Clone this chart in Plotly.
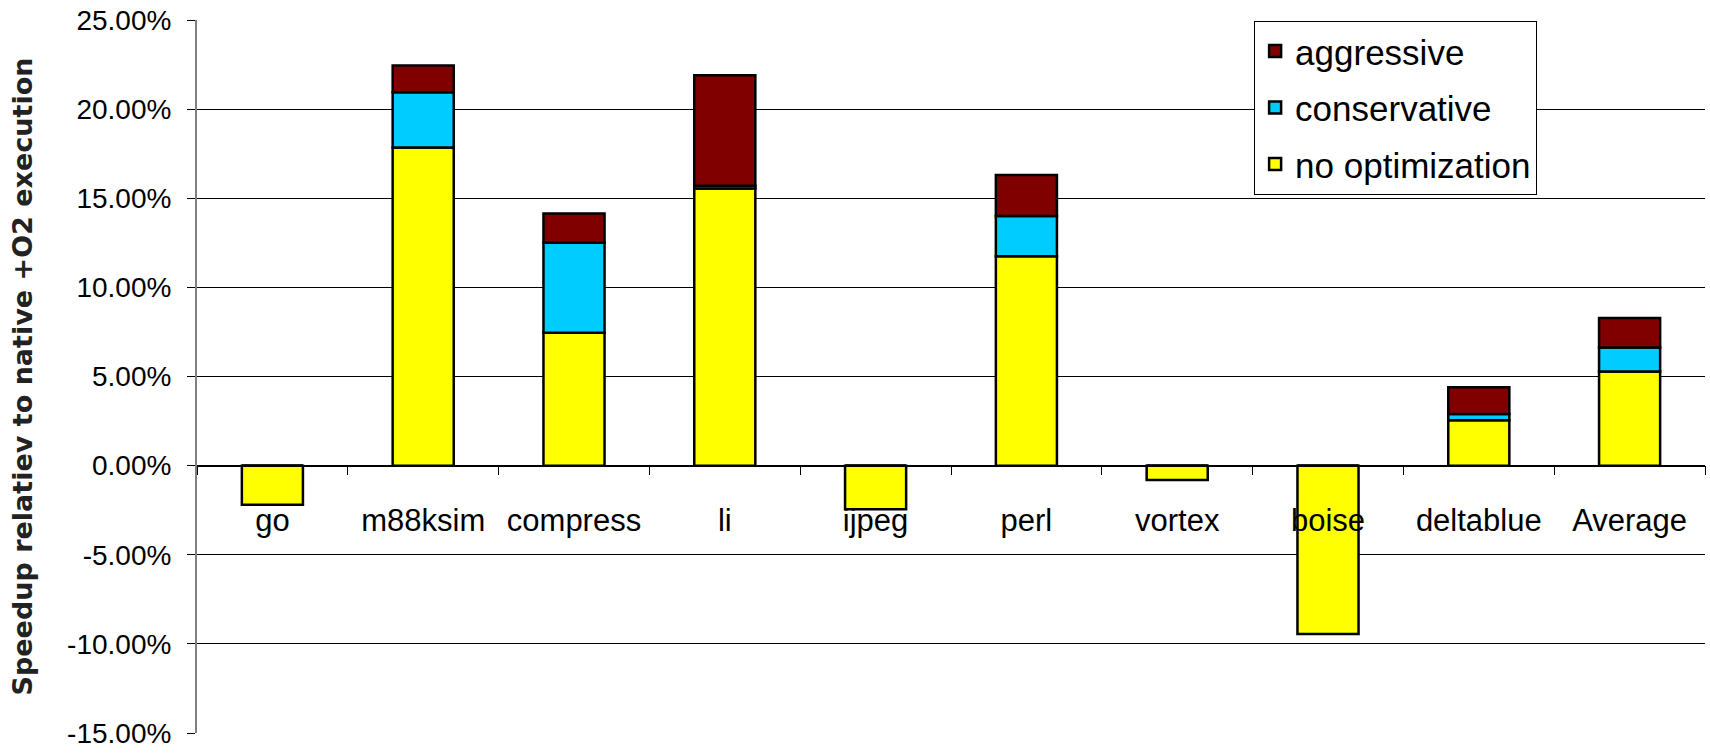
import plotly.graph_objects as go

categories = ["go", "m88ksim", "compress", "li", "ijpeg", "perl", "vortex", "boise", "deltablue", "Average"]
no_optimization = [-2.2, 17.85, 7.45, 15.55, -2.45, 11.75, -0.8, -9.45, 2.55, 5.28]
conservative = [0.0, 3.1, 5.05, 0.15, 0.0, 2.25, 0.0, 0.0, 0.35, 1.35]
aggressive = [0.0, 1.5, 1.65, 6.2, 0.0, 2.3, 0.0, 0.0, 1.5, 1.65]

tick_vals = [-15, -10, -5, 0, 5, 10, 15, 20, 25]
tick_text = ["-15.00%", "-10.00%", "-5.00%", "0.00%", "5.00%", "10.00%", "15.00%", "20.00%", "25.00%"]

FONT = "Liberation Sans, Arial, sans-serif"

fig = go.Figure()
series = [
    ("no optimization", no_optimization, "#FFFF00", 3),
    ("conservative", conservative, "#00CCFF", 2),
    ("aggressive", aggressive, "#800000", 1),
]
for name, vals, color, rank in series:
    fig.add_trace(go.Bar(
        x=categories, y=vals, name=name, legendgroup=name, legendrank=rank,
        marker=dict(color=color, line=dict(color="black", width=2.5)),
    ))

fig.update_layout(
    width=1710, height=754,
    barmode="relative", bargap=0.595,
    plot_bgcolor="white", paper_bgcolor="white",
    margin=dict(l=197, r=5, t=18, b=16),
    font=dict(family=FONT, color="black"),
    legend=dict(
        x=0.701, y=0.999, xanchor="left", yanchor="top",
        traceorder="grouped", tracegroupgap=8,
        bgcolor="white", bordercolor="black", borderwidth=1,
        font=dict(size=35, family=FONT),
    ),
    showlegend=True,
)

fig.update_yaxes(
    range=[-15, 25], tickvals=tick_vals, ticktext=tick_text,
    showgrid=True, gridcolor="black", gridwidth=1,
    zeroline=False,
    showline=True, linecolor="#808080", linewidth=2,
    ticks="outside", ticklen=8, tickcolor="black",
    tickfont=dict(size=28, family=FONT),
    ticklabelstandoff=10,
)
fig.update_xaxes(
    anchor="free", position=0.375,
    showline=True, linecolor="black", linewidth=1.5,
    showgrid=False,
    ticks="outside", ticklen=9, tickcolor="black", tickson="boundaries",
    tickfont=dict(size=31, family=FONT),
    ticklabelstandoff=27,
)

fig.add_annotation(
    text="<b>Speedup relatiev to native +O2 execution</b>",
    xref="paper", yref="paper", x=-0.1154, y=0.5,
    xanchor="center", yanchor="middle", textangle=-90, showarrow=False,
    font=dict(size=27, family="DejaVu Sans, sans-serif", color="#222"),
)

fig.write_html("out.html")
